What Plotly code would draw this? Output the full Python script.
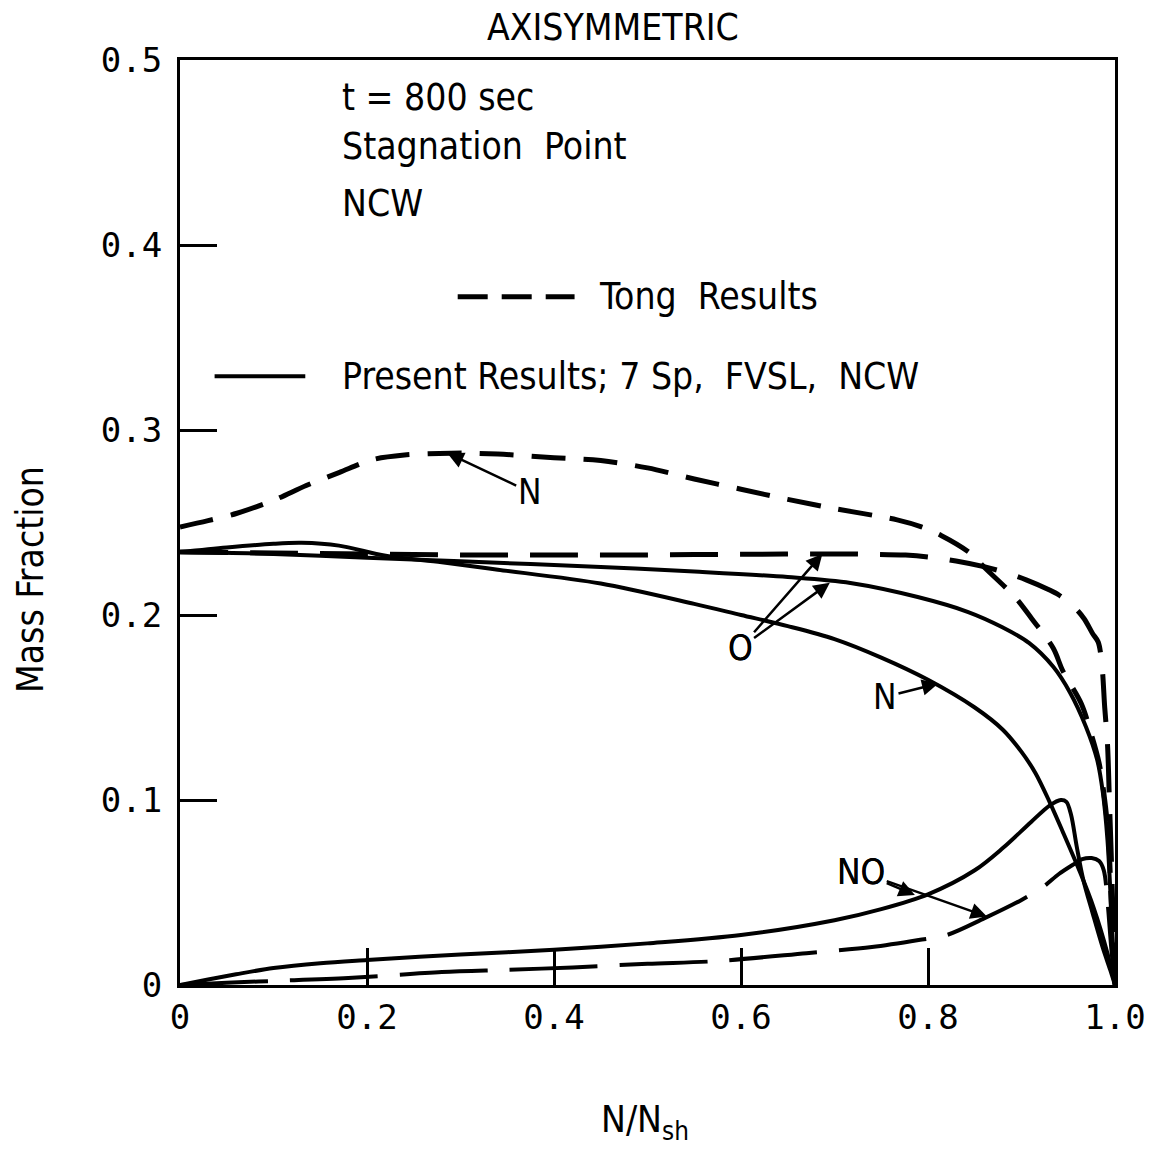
import plotly.graph_objects as go

# ---- data: mass fractions across the shock layer (N/Nsh: 0 = wall, 1 = shock) ----
# Present results (7 species, FVSL, NCW) - solid
present_N_x = [0, 0.05, 0.1, 0.13, 0.17, 0.22, 0.28, 0.34, 0.45, 0.55, 0.6, 0.65, 0.7, 0.75,
               0.8, 0.85, 0.88, 0.9, 0.915, 0.93, 0.944, 0.963, 0.977, 0.992, 1.0]
present_N_y = [0.234, 0.2365, 0.2385, 0.239, 0.2375, 0.232, 0.2285, 0.2245, 0.217, 0.206, 0.2,
               0.194, 0.187, 0.177, 0.165, 0.15, 0.138, 0.126, 0.1145, 0.099, 0.083, 0.0605,
               0.042, 0.017, 0.0]

present_O_x = [0, 0.1, 0.2, 0.3, 0.45, 0.55, 0.65, 0.717, 0.789, 0.843, 0.879, 0.908, 0.934,
               0.952, 0.969, 0.981, 0.987, 0.992, 0.997, 1.0]
present_O_y = [0.234, 0.233, 0.231, 0.229, 0.226, 0.2235, 0.2205, 0.2173, 0.2097, 0.2016,
               0.1935, 0.1849, 0.172, 0.158, 0.1395, 0.1216, 0.104, 0.078, 0.03, 0.0]

present_NO_x = [0, 0.03, 0.06, 0.1, 0.15, 0.2, 0.3, 0.4, 0.5, 0.6, 0.7, 0.75, 0.8, 0.85, 0.88,
                0.91, 0.93, 0.942, 0.948, 0.953, 0.959, 0.966, 0.976, 0.987, 0.995, 1.0]
present_NO_y = [0, 0.003, 0.0058, 0.0092, 0.0118, 0.0135, 0.0165, 0.019, 0.0225, 0.027, 0.035,
                0.041, 0.049, 0.062, 0.074, 0.088, 0.097, 0.1, 0.099, 0.092, 0.075, 0.057, 0.039,
                0.02, 0.008, 0.0]

# Tong results - dashed
tong_N_x = [0, 0.03, 0.061, 0.1, 0.135, 0.17, 0.206, 0.24, 0.29, 0.34, 0.4, 0.45, 0.5, 0.55, 0.6,
            0.65, 0.7, 0.767, 0.793, 0.814, 0.845, 0.861, 0.893, 0.911, 0.934, 0.944, 0.964,
            0.975, 0.983, 0.988, 0.993, 0.997, 1.0]
tong_N_y = [0.2476, 0.251, 0.255, 0.262, 0.27, 0.277, 0.284, 0.2865, 0.2875, 0.287, 0.285, 0.2835,
            0.2795, 0.2735, 0.268, 0.2625, 0.2575, 0.2514, 0.2476, 0.243, 0.2335, 0.2254, 0.2097,
            0.198, 0.182, 0.170, 0.152, 0.135, 0.12, 0.104, 0.08, 0.03, 0.0]

tong_O_x = [0, 0.1, 0.2, 0.3, 0.4, 0.5, 0.6, 0.7, 0.776, 0.8, 0.83, 0.861, 0.881, 0.905, 0.93,
            0.94, 0.955, 0.967, 0.976, 0.982, 0.986, 0.989, 0.992, 0.994, 0.996, 0.998, 1.0]
tong_O_y = [0.234, 0.2335, 0.233, 0.2325, 0.2325, 0.2325, 0.2328, 0.233, 0.2324, 0.2314, 0.2292,
            0.226, 0.2232, 0.219, 0.2135, 0.2108, 0.205, 0.198, 0.19, 0.1854, 0.173, 0.15, 0.13,
            0.1, 0.07, 0.035, 0.0]

tong_NO_x = [0, 0.05, 0.1, 0.18, 0.28, 0.35, 0.42, 0.5, 0.57, 0.67, 0.74, 0.79, 0.82, 0.86, 0.9,
             0.923, 0.94, 0.955, 0.965, 0.975, 0.983, 0.988, 0.992, 0.996, 1.0]
tong_NO_y = [0, 0.0012, 0.0022, 0.0038, 0.007, 0.0082, 0.0095, 0.0115, 0.0128, 0.0172, 0.0205,
             0.0243, 0.027, 0.036, 0.046, 0.053, 0.06, 0.065, 0.068, 0.0686, 0.067, 0.062, 0.045,
             0.02, 0.0]

x_ticks = [0, 0.2, 0.4, 0.6, 0.8, 1.0]
x_tick_text = ["0", "0.2", "0.4", "0.6", "0.8", "1.0"]
y_ticks = [0, 0.1, 0.2, 0.3, 0.4, 0.5]
y_tick_text = ["0", "0.1", "0.2", "0.3", "0.4", "0.5"]

TEXT_FONT = "Liberation Sans Narrow, DejaVu Sans Condensed, Arial Narrow, sans-serif"
TICK_FONT = "DejaVu Sans Mono, monospace"
INK = "black"

fig = go.Figure()


def curve(xs, ys, dash=None, width=4):
    fig.add_trace(go.Scatter(
        x=xs, y=ys, mode="lines",
        line=dict(color=INK, width=width, dash=dash, shape="spline", smoothing=0.9),
        showlegend=False, hoverinfo="skip",
    ))


curve(present_N_x, present_N_y, width=4)
curve(present_O_x, present_O_y, width=4)
curve(present_NO_x, present_NO_y, width=4)
curve(tong_N_x, tong_N_y, dash="34px,18px", width=5)
curve(tong_O_x, tong_O_y, dash="48px,22px", width=5)
curve(tong_NO_x, tong_NO_y, dash="88px,22px", width=4)

# key samples drawn inside the frame
fig.add_shape(type="line", xref="x", yref="y", x0=0.297, x1=0.422, y0=0.372, y1=0.372,
              line=dict(color=INK, width=5, dash="30px,14px"))
fig.add_shape(type="line", xref="x", yref="y", x0=0.037, x1=0.134, y0=0.329, y1=0.329,
              line=dict(color=INK, width=4))

text_items = [
    ("t = 800 sec", 0.171, 0.480),
    ("Stagnation  Point", 0.171, 0.453),
    ("NCW", 0.171, 0.4227),
    ("Tong  Results", 0.446, 0.372),
    ("Present Results; 7 Sp,  FVSL,  NCW", 0.171, 0.329),
]
for txt, tx, ty in text_items:
    fig.add_annotation(x=tx, y=ty, xref="x", yref="y", text=txt, showarrow=False,
                       xanchor="left", yanchor="middle",
                       font=dict(family=TEXT_FONT, size=37, color=INK))

# species labels with leader arrows: (text, text_x, text_y, target_x, target_y)
arrows = [
    ("N", 0.374, 0.2665, 0.286, 0.2875),
    ("O", 0.599, 0.182, 0.687, 0.2330),
    ("O", 0.599, 0.182, 0.695, 0.2175),
    ("N", 0.754, 0.1557, 0.811, 0.163),
    ("NO", 0.7286, 0.061, 0.786, 0.0486),
    ("NO", 0.7286, 0.061, 0.863, 0.037),
]
for txt, tx, ty, px, py in arrows:
    fig.add_annotation(x=px, y=py, xref="x", yref="y", ax=tx, ay=ty, axref="x", ayref="y",
                       text=txt, showarrow=True, arrowhead=2, arrowsize=1.3, arrowwidth=2.5,
                       arrowcolor=INK, standoff=0,
                       font=dict(family=TEXT_FONT, size=35, color=INK))

W, H = 1156, 1159
L, R, T, B = 180, 41, 60, 174
pw, ph = W - L - R, H - T - B


def paper_x(px):
    return (px - L) / pw


def paper_y(py):
    return (H - B - py) / ph


# titles
fig.add_annotation(text="AXISYMMETRIC", showarrow=False, xref="paper", yref="paper",
                   x=paper_x(613), y=paper_y(28), xanchor="center", yanchor="middle",
                   font=dict(family=TEXT_FONT, size=37, color=INK))
fig.add_annotation(text="Mass Fraction", textangle=-90, showarrow=False,
                   xref="paper", yref="paper", x=paper_x(30), y=paper_y(580),
                   xanchor="center", yanchor="middle",
                   font=dict(family=TEXT_FONT, size=37, color=INK))
fig.add_annotation(text="N/N<sub>sh</sub>", showarrow=False, xref="paper", yref="paper",
                   x=paper_x(645), y=paper_y(1122), xanchor="center", yanchor="middle",
                   font=dict(family=TEXT_FONT, size=37, color=INK))

axis_common = dict(
    showgrid=False, zeroline=False, showline=True, linecolor=INK, linewidth=3,
    mirror=True, ticks="inside", ticklen=37, tickwidth=3, tickcolor=INK,
    tickfont=dict(family=TICK_FONT, size=34, color=INK),
)
fig.update_xaxes(range=[0, 1.0], tickvals=x_ticks, ticktext=x_tick_text, **axis_common)
fig.update_yaxes(range=[0, 0.5], tickvals=y_ticks, ticktext=y_tick_text,
                 ticklabelstandoff=8, **axis_common)

fig.update_layout(
    width=W, height=H, margin=dict(l=L, r=R, t=T, b=B, autoexpand=False),
    plot_bgcolor="white", paper_bgcolor="white",
)

fig.write_html("out.html")
